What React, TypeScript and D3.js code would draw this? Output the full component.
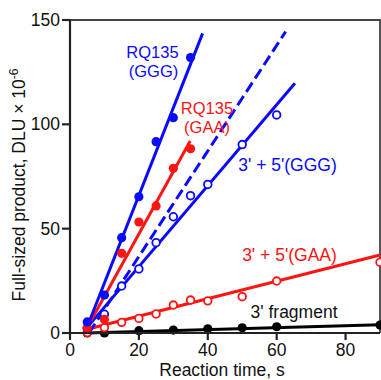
import React from "react";
import * as d3 from "d3";

// reaction times (s) and product values (DLU x 10^-6)
const tGGG = [5, 10, 15, 20, 25, 30, 35];
const vGGG = [5.3, 18.2, 45.7, 65.3, 91.7, 103.2, 132];

const tGAA = [5, 10, 15, 20, 25, 30, 35];
const vGAA = [2.5, 6.5, 38.2, 53.2, 60.9, 78.9, 88.3];

const tSumGGG = [5, 10, 15, 20, 25, 30, 35, 40, 50, 60];
const vSumGGG = [2.2, 9, 22.5, 30.7, 43.3, 55.7, 65.8, 71.2, 90.3, 104.5];

const tSumGAA = [5, 10, 15, 20, 25, 30, 35, 40, 50, 60, 90];
const vSumGAA = [0.2, 2.6, 5.1, 7, 9.1, 13.4, 15.8, 15.4, 17.4, 24.9, 33.9];

const tFrag = [5, 10, 20, 30, 40, 50, 60, 90];
const vFrag = [0, 0, 1.1, 1.4, 2, 2.5, 3, 3.8];

// fitted lines: [x0, y0, x1, y1]
const fitGGG = [5, 3, 38.5, 143.6];
const fitGAA = [4.8, 2, 34.9, 92];
const fitSumGGG = [5, 2.7, 65.3, 119.7];
const fitSumGAA = [5, 1.8, 90, 37.4];
const fitFrag = [5, 0, 90, 4];
const fitDashed = [5.5, 0, 62.6, 144.4];

const xTicks = [0, 20, 40, 60, 80];
const yTicks = [0, 50, 100, 150];

const BLUE = "#0a0aff";
const RED = "#ff1414";
const FONT = "'Liberation Sans', Arial, sans-serif";

const x = d3.scaleLinear().domain([0, 90]).range([70, 380]);
const y = d3.scaleLinear().domain([0, 150]).range([333, 20]);

const fitPath = (f: number[]) =>
  d3.line<[number, number]>().x(d => x(d[0])).y(d => y(d[1]))([
    [f[0], f[1]],
    [f[2], f[3]],
  ]) || "";

const Dots = ({ ts, vs, color, hollow }: { ts: number[]; vs: number[]; color: string; hollow?: boolean }) => (
  <g>
    {ts.map((t, i) => (
      <circle
        key={i}
        cx={x(t)}
        cy={y(vs[i])}
        r={hollow ? 3.8 : 4.6}
        fill={hollow ? "#fff" : color}
        stroke={color}
        strokeWidth={hollow ? 1.8 : 0}
      />
    ))}
  </g>
);

export default function App() {
  return (
    <svg width={381} height={380} style={{ position: "absolute", left: 0, top: 0 }} fontFamily={FONT}>
      <rect x={0} y={0} width={381} height={380} fill="#fff" />
      {/* frame */}
      <path d={`M${x(0)},${y(150)} H${x(90)} V${y(0)}`} fill="none" stroke="#444" strokeWidth={1.8} />

      {/* fit lines */}
      <path d={fitPath(fitFrag)} stroke="#000" strokeWidth={3} fill="none" />
      <path d={fitPath(fitSumGAA)} stroke={RED} strokeWidth={3} fill="none" />
      <path d={fitPath(fitSumGGG)} stroke={BLUE} strokeWidth={3} fill="none" />
      <path d={fitPath(fitDashed)} stroke={BLUE} strokeWidth={3} fill="none" strokeDasharray="11,5" />
      <path d={fitPath(fitGAA)} stroke={RED} strokeWidth={3} fill="none" />
      <path d={fitPath(fitGGG)} stroke={BLUE} strokeWidth={3} fill="none" />

      {/* points */}
      <Dots ts={tFrag} vs={vFrag} color="#000" />
      <Dots ts={tSumGAA} vs={vSumGAA} color={RED} hollow />
      <Dots ts={tSumGGG} vs={vSumGGG} color={BLUE} hollow />
      <Dots ts={tGAA} vs={vGAA} color={RED} />
      <Dots ts={tGGG} vs={vGGG} color={BLUE} />

      {/* axes */}
      <line x1={x(0)} x2={x(0)} y1={y(150)} y2={y(0) + 1} stroke="#222" strokeWidth={2.2} />
      <line x1={x(0) - 1} x2={x(90)} y1={y(0)} y2={y(0)} stroke="#222" strokeWidth={2.2} />
      {yTicks.map(t => (
        <g key={t}>
          <line x1={x(0) - 8} x2={x(0)} y1={y(t)} y2={y(t)} stroke="#222" strokeWidth={2.2} />
          <text x={60} y={y(t)} dy="0.35em" textAnchor="end" fontSize={17.5} fill="#111">
            {t}
          </text>
        </g>
      ))}
      {xTicks.map(t => (
        <g key={t}>
          <line x1={x(t)} x2={x(t)} y1={y(0)} y2={y(0) + 7} stroke="#222" strokeWidth={2.2} />
          <text x={x(t)} y={356} textAnchor="middle" fontSize={17.5} fill="#111">
            {t}
          </text>
        </g>
      ))}

      <text x={222} y={376} textAnchor="middle" fontSize={17.5} fill="#111">
        Reaction time, s
      </text>
      <text transform="translate(25,185) rotate(-90)" textAnchor="middle" fontSize={17.5} fill="#111">
        Full-sized product, DLU × 10
        <tspan fontSize={12} dy={-7}>-6</tspan>
      </text>

      {/* series labels */}
      <g fontSize={16.5} textAnchor="middle">
        <text x={152.5} y={58} fill={BLUE}>RQ135</text>
        <text x={153.5} y={77} fill={BLUE}>(GGG)</text>
        <text x={207} y={114} fill={RED}>RQ135</text>
        <text x={207} y={133} fill={RED}>(GAA)</text>
      </g>
      <g fontSize={17.5} textAnchor="middle">
        <text x={287.5} y={171} fill={BLUE}>3' + 5'(GGG)</text>
        <text x={289.5} y={261} fill={RED}>3' + 5'(GAA)</text>
        <text x={294} y={318} fill="#111">3' fragment</text>
      </g>
    </svg>
  );
}
